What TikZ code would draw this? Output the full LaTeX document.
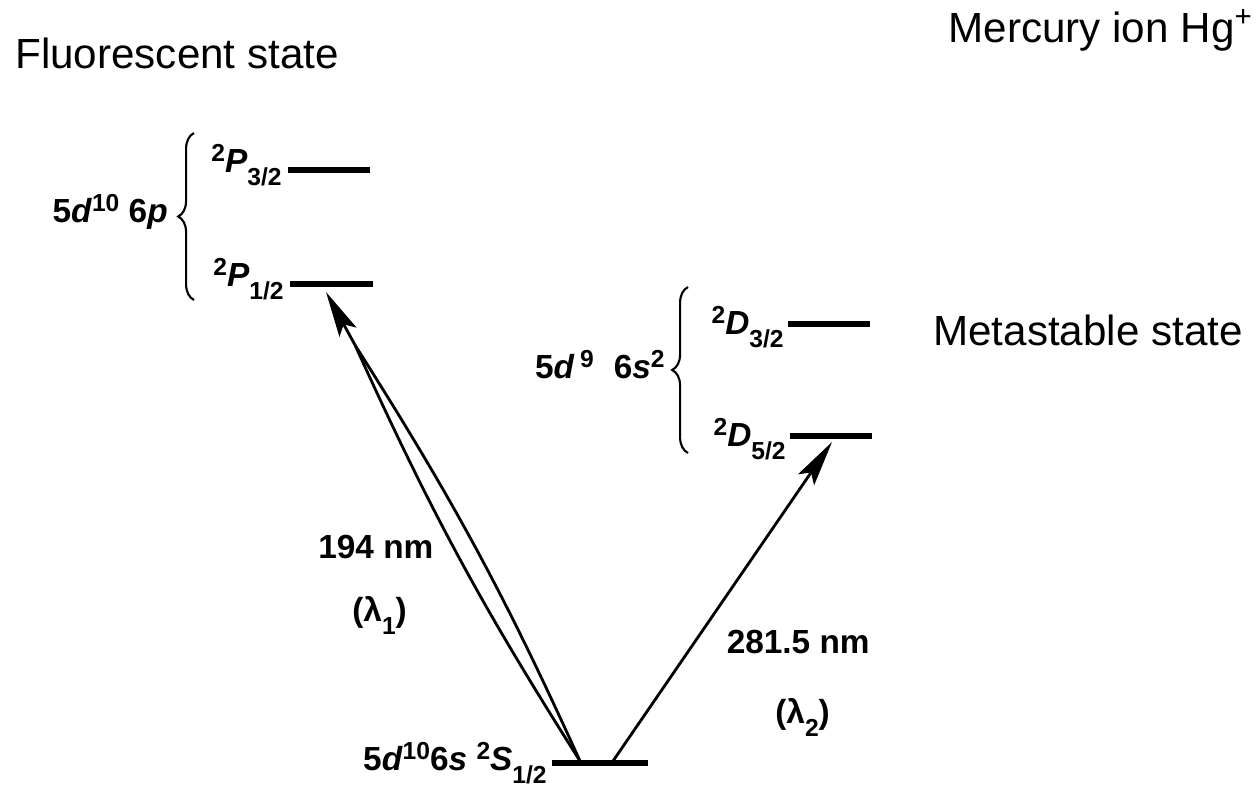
\documentclass[tikz,border=0pt]{standalone}
\usepackage{fontspec}
\setmainfont{Liberation Sans}
\usetikzlibrary{arrows.meta, decorations.pathreplacing, positioning}

\newcommand\levup[1]{\raisebox{0.32em}{\fontsize{14}{14}\selectfont #1}}
\newcommand\levdn[1]{\raisebox{-0.4em}{\fontsize{14}{14}\selectfont #1}}

\begin{document}
\begin{tikzpicture}[x=0.02cm, y=-0.02cm,
		level/.style={line width=3.4pt},
		trans/.style={line width=1.6pt},
		head/.style={trans, -{Stealth[length=26pt, width=11pt, inset=5pt]}},
		brc/.style={line width=1.2pt, decorate, decoration={brace, amplitude=9}},
		title/.style={font=\fontsize{24}{28}\selectfont, inner sep=0pt},
		term/.style={font=\fontsize{19}{22}\selectfont\bfseries, inner sep=0pt}]
		\useasboundingbox (0,0) rectangle (1258,792);
		
		\node[title, anchor=base west] (fluo) at (15,68) {Fluorescent state};
		\node[title, anchor=base east] (hg) at (1253,42) {Mercury ion Hg\textsuperscript{+}};
		\node[title, anchor=base west] (meta) at (933,345) {Metastable state};
		
		\coordinate (P3a) at (288,170);
		\coordinate (P3b) at (370,170);
		\coordinate (P1a) at (290,284);
		\coordinate (P1b) at (373,284);
		\coordinate (D3a) at (788,324);
		\coordinate (D3b) at (870,324);
		\coordinate (D5a) at (790,436);
		\coordinate (D5b) at (872,436);
		\coordinate (S1a) at (552,763);
		\coordinate (S1b) at (648,763);
		
		\draw[level] (P3a) -- (P3b);
		\draw[level] (P1a) -- (P1b);
		\draw[level] (D3a) -- (D3b);
		\draw[level] (D5a) -- (D5b);
		\draw[level] (S1a) -- (S1b);
		
		\node[term, anchor=base east] (P3) at (282,172) {\levup{2}\textit{P}\levdn{3/2}};
		\node[term, anchor=base east] (P1) at (284,286) {\levup{2}\textit{P}\levdn{1/2}};
		\node[term, anchor=base east] (D3) at (784,334) {\levup{2}\textit{D}\levdn{3/2}};
		\node[term, anchor=base east] (D5) at (786,446) {\levup{2}\textit{D}\levdn{5/2}};
		\node[term, anchor=base east] (S1) at (547,770) {5\textit{d}\levup{10}6\textit{s} \levup{2}\textit{S}\levdn{1/2}};
		
		\node[term, anchor=base east] (cfgP) at (168,222) {5\textit{d}\levup{10} 6\textit{p}};
		\node[term, anchor=base east] (cfgD) at (665,378) {5\textit{d}\,\levup{9}\hspace{0.6em}6\textit{s}\levup{2}};
		\draw[brc] (194,300) -- (194,133);
		\draw[brc] (688,453) -- (688,287);
		
		\coordinate (A1) at (580,761);
		\coordinate (N1) at (355,345);
		\coordinate (T1) at (326,292);
		\coordinate (A2) at (613,761);
		\coordinate (T2) at (832,442);
		
		\draw[trans] (A1) to[bend left=4] (N1);
		\draw[trans] (A1) to[bend right=4] (N1);
		\draw[head] (N1) -- (T1);
		\draw[head] (A2) -- (T2);
		
		\node[term, anchor=base west] (w1) at (318,558) {194 nm};
		\node[term, anchor=base west] (l1) at (352,621) {(λ\levdn{1})};
		\node[term, anchor=base east] (w2) at (870,653) {281.5 nm};
		\node[term, anchor=base west] (l2) at (775,723) {(λ\levdn{2})};
	\end{tikzpicture}
\end{document}
